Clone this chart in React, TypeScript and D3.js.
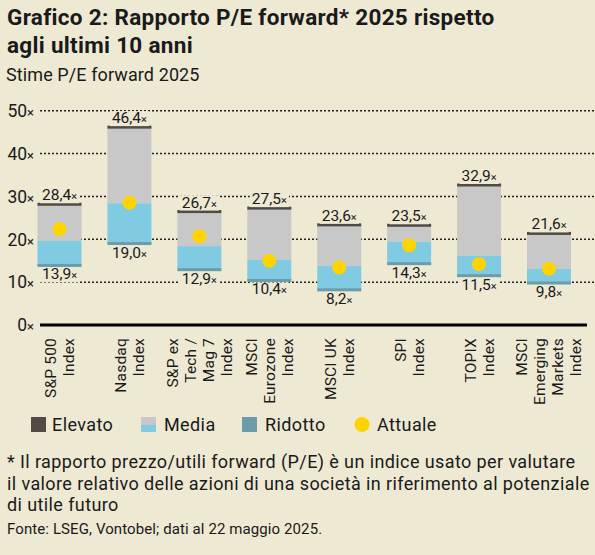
import React, { useEffect, useRef } from "react";
import * as d3 from "d3";

const categories = ["S&P 500 Index", "Nasdaq Index", "S&P ex Tech / Mag 7 Index", "MSCI Eurozone Index", "MSCI UK Index", "SPI Index", "TOPIX Index", "MSCI Emerging Markets Index"];
const categoryLines = [
  ["S&P 500", "Index"],
  ["Nasdaq", "Index"],
  ["S&P ex", "Tech /", "Mag 7", "Index"],
  ["MSCI", "Eurozone", "Index"],
  ["MSCI UK", "Index"],
  ["SPI", "Index"],
  ["TOPIX", "Index"],
  ["MSCI", "Emerging", "Markets", "Index"],
];
const highValues = [28.4, 46.4, 26.7, 27.5, 23.6, 23.5, 32.9, 21.6];
const lowValues = [13.9, 19.0, 12.9, 10.4, 8.2, 14.3, 11.5, 9.8];
const medianValues = [19.6, 28.4, 18.4, 15.2, 13.8, 19.4, 16.2, 13.1];
const currentValues = [22.4, 28.5, 20.7, 15.0, 13.4, 18.6, 14.2, 13.1];
const yTicks = [0, 10, 20, 30, 40, 50];
const legendItems = ["Elevato", "Media", "Ridotto", "Attuale"];

const W = 595;
const H = 555;
const BG = "#EDE9D3";
const FONT = "Roboto, 'Liberation Sans', sans-serif";

const fmt = (v: number) => v.toFixed(1).replace(".", ",");

export default function App() {
  const ref = useRef<SVGSVGElement>(null);

  useEffect(() => {
    const svg = d3.select(ref.current);
    svg.selectAll("*").remove();

    svg.append("rect").attr("width", W).attr("height", H).attr("fill", BG);

    const g = svg.append("g").attr("font-family", FONT).attr("fill", "#1a1a1a");

    // titles
    g.append("text").attr("x", 7).attr("y", 25).attr("font-size", 22.5).attr("font-weight", 700)
      .attr("letter-spacing", 0.3)
      .text("Grafico 2: Rapporto P/E forward* 2025 rispetto");
    g.append("text").attr("x", 7).attr("y", 53).attr("font-size", 22.5).attr("font-weight", 700)
      .attr("letter-spacing", 0.3)
      .text("agli ultimi 10 anni");
    g.append("text").attr("x", 6).attr("y", 81).attr("font-size", 18).attr("letter-spacing", 0.1)
      .text("Stime P/E forward 2025");

    const y = d3.scaleLinear().domain([0, 50]).range([325, 110.7]);
    const x = d3.scalePoint<string>().domain(categories).range([59.5, 549]);
    const bw = 44;

    // grid
    const grid = g.append("g");
    yTicks.filter(t => t > 0).forEach(t => {
      grid.append("line")
        .attr("x1", 40).attr("x2", W)
        .attr("y1", y(t)).attr("y2", y(t))
        .attr("stroke", "#222").attr("stroke-width", 1.5)
        .attr("stroke-dasharray", "2,2");
    });
    yTicks.forEach(t => {
      const tx = g.append("text").attr("x", 34).attr("y", y(t)).attr("dy", "0.36em")
        .attr("text-anchor", "end").attr("font-size", 17.5);
      tx.append("tspan").text(String(t));
      tx.append("tspan").attr("font-size", 13).text("×");
    });

    const bars = g.append("g");
    categories.forEach((c, i) => {
      const cx = x(c) as number;
      const x0 = cx - bw / 2;
      bars.append("rect").attr("x", x0).attr("width", bw)
        .attr("y", y(highValues[i])).attr("height", y(medianValues[i]) - y(highValues[i]))
        .attr("fill", "#C8C8C8");
      bars.append("rect").attr("x", x0).attr("width", bw)
        .attr("y", y(medianValues[i])).attr("height", y(lowValues[i]) - y(medianValues[i]))
        .attr("fill", "#80CBE1");
      bars.append("rect").attr("x", x0).attr("width", bw)
        .attr("y", y(highValues[i]) - 0.5).attr("height", 3)
        .attr("fill", "#524A44");
      bars.append("rect").attr("x", x0).attr("width", bw)
        .attr("y", y(lowValues[i]) - 1.5).attr("height", 3)
        .attr("fill", "#6B9CA9");
      bars.append("circle").attr("cx", cx).attr("cy", y(currentValues[i])).attr("r", 7)
        .attr("fill", "#FFD300");
    });

    // value labels with background
    const addLabel = (cx: number, yy: number, v: number) => {
      const lg = g.append("g");
      const bgRect = lg.append("rect").attr("fill", BG);
      const t = lg.append("text").attr("x", cx).attr("y", yy).attr("text-anchor", "middle").attr("font-size", 15.5);
      t.append("tspan").text(fmt(v));
      t.append("tspan").attr("font-size", 11).text("×");
      const bb = (t.node() as SVGTextElement).getBBox();
      bgRect.attr("x", bb.x - 2).attr("y", bb.y + 2).attr("width", bb.width + 4).attr("height", bb.height - 3);
    };
    categories.forEach((c, i) => {
      const cx = x(c) as number;
      addLabel(cx, y(highValues[i]) - 3, highValues[i]);
      addLabel(cx, y(lowValues[i]) + 14, lowValues[i]);
    });

    // baseline
    g.append("line").attr("x1", 40).attr("x2", 587).attr("y1", y(0)).attr("y2", y(0))
      .attr("stroke", "#000").attr("stroke-width", 3);

    // category labels
    const lineH = 18;
    categories.forEach((c, i) => {
      const cx = x(c) as number;
      const lines = categoryLines[i];
      lines.forEach((ln, j) => {
        const lx = cx + (j - (lines.length - 1) / 2) * lineH;
        g.append("text")
          .attr("transform", `translate(${lx},338) rotate(-90)`)
          .attr("text-anchor", "end").attr("dy", "0.35em")
          .attr("font-size", 15.5).attr("letter-spacing", 0.2).text(ln);
      });
    });

    // legend
    const lgY = 417;
    const lg = g.append("g").attr("font-size", 18).attr("letter-spacing", 0.4);
    lg.append("rect").attr("x", 31).attr("y", lgY).attr("width", 15).attr("height", 15).attr("fill", "#524A44");
    lg.append("text").attr("x", 52).attr("y", 431).text(legendItems[0]);
    lg.append("rect").attr("x", 141).attr("y", lgY).attr("width", 15).attr("height", 8).attr("fill", "#C8C8C8");
    lg.append("rect").attr("x", 141).attr("y", lgY + 8).attr("width", 15).attr("height", 7).attr("fill", "#80CBE1");
    lg.append("text").attr("x", 164).attr("y", 431).text(legendItems[1]);
    lg.append("rect").attr("x", 242).attr("y", lgY).attr("width", 15).attr("height", 15).attr("fill", "#6B9CA9");
    lg.append("text").attr("x", 265).attr("y", 431).text(legendItems[2]);
    lg.append("circle").attr("cx", 362).attr("cy", lgY + 7.5).attr("r", 7.5).attr("fill", "#FFD300");
    lg.append("text").attr("x", 377).attr("y", 431).text(legendItems[3]);

    // footnote
    const notes = [
      "* Il rapporto prezzo/utili forward (P/E) è un indice usato per valutare",
      "il valore relativo delle azioni di una società in riferimento al potenziale",
      "di utile futuro",
    ];
    notes.forEach((n, i) => {
      g.append("text").attr("x", 7).attr("y", 468 + i * 21.5).attr("font-size", 18)
        .attr("letter-spacing", 0.4).text(n);
    });
    g.append("text").attr("x", 7).attr("y", 534).attr("font-size", 15).attr("letter-spacing", 0.1)
      .text("Fonte: LSEG, Vontobel; dati al 22 maggio 2025.");
  }, []);

  return (
    <div style={{ position: "absolute", left: 0, top: 0 }}>
      <svg ref={ref} width={W} height={H} style={{ display: "block" }} />
    </div>
  );
}
